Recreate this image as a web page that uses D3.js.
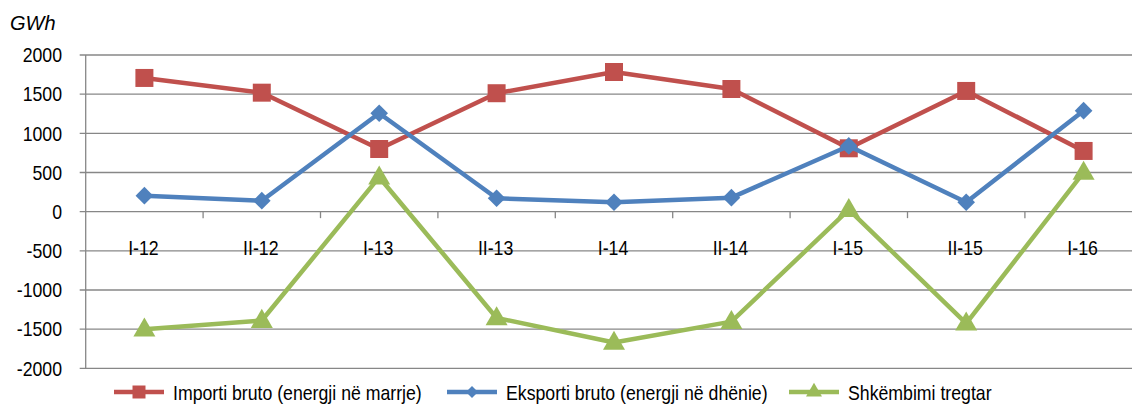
<!DOCTYPE html>
<html>
<head>
<meta charset="utf-8">
<script src="https://cdn.jsdelivr.net/npm/d3@7"></script>
<style>
  html, body { margin: 0; padding: 0; background: #fff; }
  svg { display: block; }
  text { font-family: "Liberation Sans", Arial, sans-serif; fill: #000; }
</style>
</head>
<body>
<svg id="chart" width="1132" height="406"></svg>
<script>
const categories = ["I-12", "II-12", "I-13", "II-13", "I-14", "II-14", "I-15", "II-15", "I-16"];
const importValues = [1707, 1519, 800, 1512, 1783, 1566, 809, 1541, 775];
const exportValues = [204, 140, 1256, 171, 120, 179, 839, 120, 1289];
const tradeValues = [-1500, -1390, 440, -1357, -1670, -1404, 25, -1425, 500];
const yTicks = [-2000, -1500, -1000, -500, 0, 500, 1000, 1500, 2000];
const seriesNames = ["Importi bruto (energji në marrje)", "Eksporti bruto (energji në dhënie)", "Shkëmbimi tregtar"];
const unitLabel = "GWh";

const svg = d3.select("#chart");
const W = 1132, H = 406;
const plotLeft = 85.7, bandW = 117.4;
const plotTop = 55, plotBottom = 368.3;
const fs = 20, sx = 0.885;

const x = d3.scaleBand().domain(categories).range([plotLeft, plotLeft + bandW * categories.length]).paddingInner(0).paddingOuter(0);
const y = d3.scaleLinear().domain([-2000, 2000]).range([plotBottom, plotTop]);
const cx = d => x(d) + x.bandwidth() / 2;

const gridColor = "#878787";

// gridlines
const grid = svg.append("g");
grid.selectAll("line").data(yTicks).join("line")
  .attr("x1", plotLeft - 6).attr("x2", W + 20)
  .attr("y1", d => y(d)).attr("y2", d => y(d))
  .attr("stroke", gridColor).attr("stroke-width", 1.3);

// y axis line
svg.append("line").attr("x1", plotLeft).attr("x2", plotLeft).attr("y1", plotTop).attr("y2", plotBottom)
  .attr("stroke", gridColor).attr("stroke-width", 1.3);

// category ticks on zero line
const bounds = categories.map(c => x(c) + x.bandwidth());
svg.append("g").selectAll("line").data(bounds).join("line")
  .attr("x1", d => d).attr("x2", d => d)
  .attr("y1", y(0)).attr("y2", y(0) + 6.5)
  .attr("stroke", gridColor).attr("stroke-width", 1.3);

// y tick labels
svg.append("g").selectAll("text").data(yTicks).join("text")
  .attr("transform", d => `translate(62,${y(d) + 7.2}) scale(${sx},1)`)
  .attr("text-anchor", "end")
  .style("font-size", fs + "px")
  .text(d => d);

// x category labels
svg.append("g").selectAll("text").data(categories).join("text")
  .attr("transform", d => `translate(${cx(d) - 1},255) scale(${sx},1)`)
  .attr("text-anchor", "middle")
  .style("font-size", fs + "px")
  .text(d => d);

// unit label
svg.append("text").attr("x", 10).attr("y", 30)
  .style("font-size", "20px").style("font-style", "italic")
  .text(unitLabel);

const colors = ["#C0504D", "#4F81BD", "#9BBB59"];
const allSeries = [importValues, exportValues, tradeValues];
const markerSym = [d3.symbolSquare, d3.symbolSquare, d3.symbolTriangle];
const markerRot = [0, 45, 0];
const markerSize = [18 * 18, 12.5 * 12.5, 210];

const line = d3.line().x((d, i) => cx(categories[i])).y(d => y(d));

allSeries.forEach((vals, si) => {
  const g = svg.append("g");
  g.append("path").datum(vals).attr("d", line)
    .attr("fill", "none").attr("stroke", colors[si]).attr("stroke-width", 4.5)
    .attr("stroke-linejoin", "round");
  g.selectAll("path.m").data(vals).join("path").attr("class", "m")
    .attr("d", d3.symbol().type(markerSym[si]).size(markerSize[si]))
    .attr("transform", (d, i) => `translate(${cx(categories[i])},${y(d) + (si === 2 ? 1 : 0)}) rotate(${markerRot[si]})`)
    .attr("fill", colors[si]);
});

// legend
const legendX = [114, 447, 789];
const legendY = 392;
const legendMarkerSize = [13 * 13, 8.5 * 8.5, 110];
seriesNames.forEach((name, i) => {
  const g = svg.append("g").attr("transform", `translate(${legendX[i]},${legendY})`);
  g.append("line").attr("x1", 0).attr("x2", 50).attr("y1", 0).attr("y2", 0)
    .attr("stroke", colors[i]).attr("stroke-width", 4.5);
  g.append("path").attr("d", d3.symbol().type(markerSym[i]).size(legendMarkerSize[i]))
    .attr("transform", `translate(25,0) rotate(${markerRot[i]})`).attr("fill", colors[i]);
  g.append("text").attr("transform", `translate(59,8) scale(${sx},1)`)
    .style("font-size", fs + "px").text(name);
});
</script>
</body>
</html>
